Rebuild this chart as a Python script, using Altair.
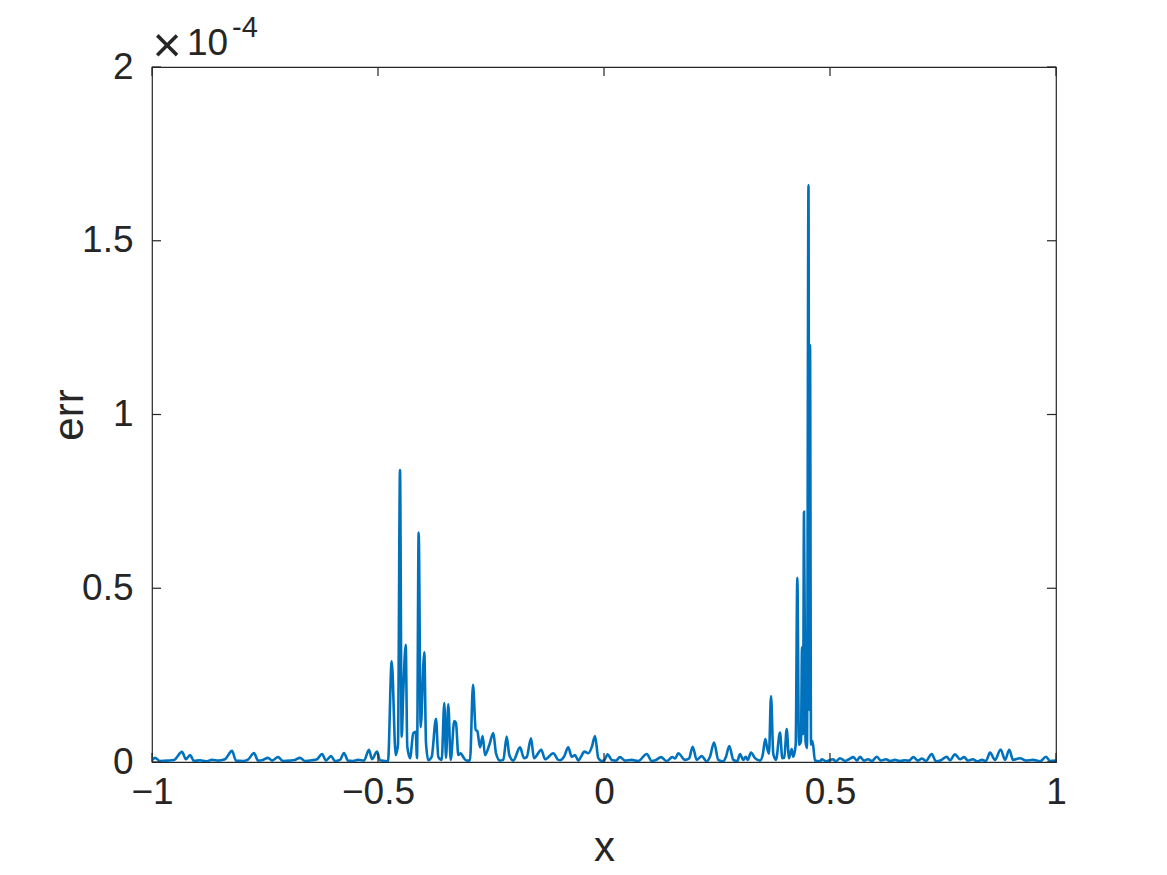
import altair as alt
import pandas as pd

# x positions and error values (in units of 1e-4)
x_vals = [
    -1.0000, -0.9934, -0.9823, -0.9646, -0.9513, -0.9336, -0.9248, -0.9159, -0.9071, -0.8938,
    -0.8805, -0.8673, -0.8540, -0.8385, -0.8230, -0.8142, -0.7987, -0.7876, -0.7743, -0.7655,
    -0.7544, -0.7434, -0.7345, -0.7212, -0.7102, -0.6947, -0.6836, -0.6726, -0.6615, -0.6460,
    -0.6350, -0.6239, -0.6150, -0.6040, -0.5951, -0.5841, -0.5752, -0.5664, -0.5553, -0.5442,
    -0.5310, -0.5199, -0.5133, -0.5022, -0.4956, -0.4845, -0.4779,
    -0.4697, -0.4608, -0.4558, -0.4513, -0.4476, -0.4441, -0.4387, -0.4352, -0.4292, -0.4219,
    -0.4166, -0.4137, -0.4100, -0.4056, -0.3976, -0.3938, -0.3887, -0.3812, -0.3717, -0.3666,
    -0.3591, -0.3533, -0.3496, -0.3445, -0.3392, -0.3312, -0.3274, -0.3223, -0.3170, -0.3113,
    -0.3038, -0.2965, -0.2898, -0.2838, -0.2803, -0.2743, -0.2684, -0.2633, -0.2538, -0.2449,
    -0.2389, -0.2301, -0.2228, -0.2153, -0.2095, -0.2007, -0.1858, -0.1770, -0.1710, -0.1615,
    -0.1549, -0.1387, -0.1305, -0.1122, -0.1011,
    -0.0973, -0.0885, -0.0790, -0.0715, -0.0642, -0.0569, -0.0509, -0.0436, -0.0347, -0.0265,
    -0.0199, -0.0126, -0.0051, 0.0000, 0.0082, 0.0170, 0.0265, 0.0354, 0.0465, 0.0613,
    0.0759, 0.0945, 0.1055, 0.1150, 0.1261, 0.1387, 0.1511, 0.1571, 0.1644, 0.1792,
    0.1881, 0.1962, 0.2051, 0.2162, 0.2272, 0.2345, 0.2434, 0.2529, 0.2639, 0.2699,
    0.2772, 0.2861, 0.2949, 0.3009, 0.3082, 0.3135, 0.3179, 0.3252, 0.3341, 0.3451,
    0.3511, 0.3569, 0.3613, 0.3650, 0.3695, 0.3745, 0.3805, 0.3894, 0.3945, 0.3989,
    0.4042, 0.4093, 0.4153, 0.4188, 0.4241, 0.4277, 0.4314, 0.4358, 0.4381, 0.4403,
    0.4425, 0.4458, 0.4491, 0.4524, 0.4542, 0.4558, 0.4580, 0.4613, 0.4668, 0.4779,
    0.4816, 0.4912, 0.5066, 0.5133, 0.5221, 0.5332, 0.5420, 0.5516, 0.5597, 0.5664,
    0.5752, 0.5841, 0.5929, 0.6033, 0.6128, 0.6239, 0.6327, 0.6438, 0.6549, 0.6659,
    0.6748, 0.6844, 0.6947, 0.7035, 0.7124, 0.7250, 0.7345, 0.7456, 0.7581, 0.7655,
    0.7765, 0.7876, 0.7965, 0.8053, 0.8164, 0.8252, 0.8363, 0.8451, 0.8540, 0.8650,
    0.8776, 0.8872, 0.8967, 0.9049, 0.9204, 0.9336, 0.9491, 0.9646, 0.9779, 0.9867,
    1.0000,
]
err_vals = [
    0.005, 0.012, 0.003, 0.004, 0.006, 0.029, 0.008, 0.020, 0.003, 0.005,
    0.002, 0.006, 0.004, 0.008, 0.032, 0.004, 0.003, 0.007, 0.026, 0.004,
    0.006, 0.012, 0.004, 0.014, 0.003, 0.004, 0.006, 0.012, 0.003, 0.005,
    0.008, 0.023, 0.004, 0.017, 0.003, 0.006, 0.026, 0.004, 0.003, 0.006,
    0.004, 0.035, 0.008, 0.030, 0.005, 0.003, 0.002,
    0.290, 0.020, 0.050, 0.840, 0.073, 0.200, 0.337, 0.044, 0.011, 0.083,
    0.087, 0.011, 0.660, 0.100, 0.316, 0.055, 0.005, 0.015, 0.124, 0.015,
    0.006, 0.170, 0.012, 0.166, 0.006, 0.118, 0.112, 0.020, 0.025, 0.014,
    0.004, 0.004, 0.222, 0.092, 0.089, 0.042, 0.075, 0.020, 0.049, 0.083,
    0.025, 0.004, 0.006, 0.073, 0.020, 0.004, 0.042, 0.011, 0.014, 0.068,
    0.011, 0.035, 0.008, 0.025, 0.006,
    0.005, 0.015, 0.042, 0.015, 0.020, 0.004, 0.015, 0.030, 0.025, 0.045,
    0.075, 0.011, 0.003, 0.004, 0.022, 0.006, 0.004, 0.014, 0.004, 0.006,
    0.003, 0.023, 0.003, 0.006, 0.014, 0.003, 0.014, 0.010, 0.025, 0.006,
    0.010, 0.044, 0.006, 0.017, 0.002, 0.015, 0.056, 0.006, 0.002, 0.015,
    0.046, 0.006, 0.002, 0.023, 0.006, 0.015, 0.006, 0.027, 0.011, 0.004,
    0.020, 0.066, 0.038, 0.024, 0.190, 0.024, 0.006, 0.085, 0.011, 0.012,
    0.095, 0.011, 0.037, 0.015, 0.050, 0.530, 0.050, 0.060, 0.330, 0.080,
    0.720, 0.060, 0.040, 1.660, 0.150, 1.200, 0.050, 0.060, 0.004, 0.002,
    0.008, 0.002, 0.008, 0.002, 0.011, 0.003, 0.008, 0.014, 0.004, 0.015,
    0.004, 0.008, 0.003, 0.015, 0.004, 0.008, 0.003, 0.006, 0.003, 0.005,
    0.004, 0.014, 0.004, 0.010, 0.003, 0.023, 0.002, 0.005, 0.015, 0.005,
    0.022, 0.008, 0.014, 0.004, 0.008, 0.002, 0.006, 0.003, 0.027, 0.006,
    0.036, 0.006, 0.035, 0.006, 0.011, 0.004, 0.006, 0.002, 0.015, 0.003,
    0.004,
]
x_ticks = [-1, -0.5, 0, 0.5, 1]
y_ticks = [0, 0.5, 1, 1.5, 2]

FONT = "Liberation Sans"
TXT = "#262626"
W, H = 904, 695
TL = 9  # inward tick length

df = pd.DataFrame({"x": x_vals, "err": err_vals})
xt = pd.DataFrame({"x": x_ticks})
yt = pd.DataFrame({"err": y_ticks})

x_axis = alt.Axis(values=x_ticks, format=".1~f", ticks=False, tickSize=0, domain=False, grid=False,
                  labelFontSize=37, labelColor=TXT, labelFont=FONT, labelPadding=12,
                  labelFlush=False, title="x", titleFontSize=42, titleFont=FONT,
                  titleColor=TXT, titleFontWeight="normal", titleBaseline="alphabetic",
                  titleY=98)
y_axis = alt.Axis(values=y_ticks, format=".1~f", ticks=False, tickSize=0, domain=False, grid=False,
                  labelFontSize=37, labelColor=TXT, labelFont=FONT, labelPadding=19,
                  labelFlush=False, title="err", titleFontSize=42, titleFont=FONT,
                  titleColor=TXT, titleFontWeight="normal", titleAngle=270,
                  titleBaseline="alphabetic", titleX=-70, titleY=H / 2)

xs = alt.Scale(domain=[-1, 1], nice=False, zero=False)
ys = alt.Scale(domain=[0, 2], nice=False, zero=False)

x_enc = alt.X("x:Q", scale=xs, axis=x_axis)
y_enc = alt.Y("err:Q", scale=ys, axis=y_axis)

line = alt.Chart(df).mark_line(color="#0072BD", strokeWidth=2.6, interpolate="monotone", clip=True).encode(
    x=x_enc, y=y_enc
)

tick_style = dict(color=TXT, strokeWidth=1.2)
xt_bottom = alt.Chart(xt).mark_rule(**tick_style).encode(x=x_enc, y=alt.value(H), y2=alt.value(H - TL))
xt_top = alt.Chart(xt).mark_rule(**tick_style).encode(x=x_enc, y=alt.value(0), y2=alt.value(TL))
yt_left = alt.Chart(yt).mark_rule(**tick_style).encode(y=y_enc, x=alt.value(0), x2=alt.value(TL))
yt_right = alt.Chart(yt).mark_rule(**tick_style).encode(y=y_enc, x=alt.value(W), x2=alt.value(W - TL))

one = alt.Data(values=[{"k": 1}])
times = alt.Chart(one).mark_text(text="×", font=FONT, fontSize=50, color=TXT, align="center",
                                 baseline="alphabetic").encode(x=alt.value(15), y=alt.value(-5))
ten = alt.Chart(one).mark_text(text="10", font=FONT, fontSize=37, color=TXT, align="left",
                               baseline="alphabetic").encode(x=alt.value(35), y=alt.value(-12))
expo = alt.Chart(one).mark_text(text="-4", font=FONT, fontSize=29, color=TXT, align="left",
                                baseline="alphabetic").encode(x=alt.value(80), y=alt.value(-30))

chart = alt.layer(line, xt_bottom, xt_top, yt_left, yt_right, times, ten, expo).properties(
    width=W, height=H,
    autosize=alt.AutoSizeParams(type="none"),
    padding={"left": 144, "top": 59, "right": 100, "bottom": 106},
    background="white",
).configure_view(stroke=TXT, strokeWidth=1.2)

chart.save("out.html", embed_options={"renderer": "svg", "actions": False})
